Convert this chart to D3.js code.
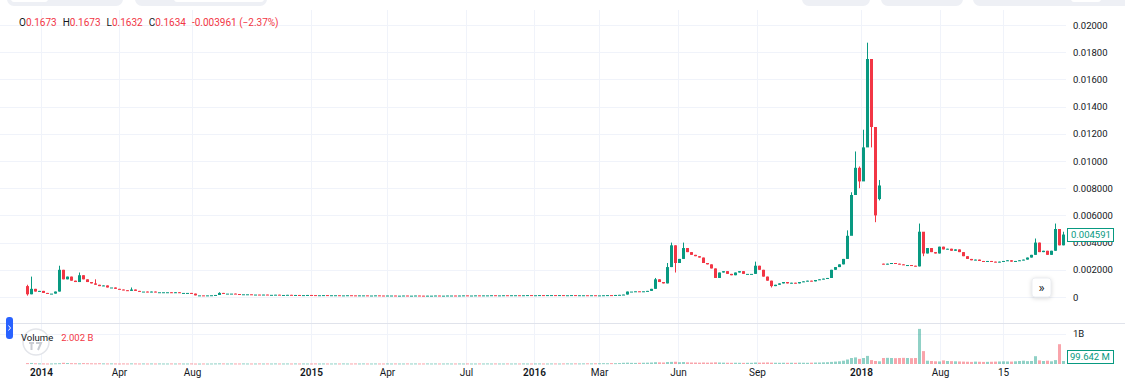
<!DOCTYPE html>
<html>
<head>
<meta charset="utf-8">
<script src="https://cdn.jsdelivr.net/npm/d3@7"></script>
<style>
  body { margin: 0; background: #fff; }
  svg text { font-family: Roboto, "Noto Sans", sans-serif; }
</style>
</head>
<body>
<div id="chart"></div>
<script>

    // prices are written in units of 0.0001
    var PRICE_UNIT = 1e-4;

    // close of each candle (open = previous close unless overridden)
    var closes = [
        2, 6, 4, 4.5, 3, 2.5, 2.5, 4, 20, 13,
        15, 12, 11, 16, 13, 11, 10, 9, 8, 8.5,
        7, 7, 6, 5.5, 5, 4.5, 5.5, 4.5, 4, 4,
        3.5, 4, 3.5, 3.5, 3.5, 3.5, 3, 3.5, 3, 3,
        3, 2.5, 1.2, 1.2, 1.1, 1.2, 1.3, 1.5, 3, 2.5,
        2.5, 2.5, 2.2, 2, 2, 2, 1.8,
        1.8, 1.7, 1.8, 1.6, 1.6, 1.7, 1.5, 1.5, 1.6, 1.4, 1.5, 1.4, 1.4, 1.5,
        1.4, 1.3, 1.3, 1.4, 1.2, 1.3, 1.3, 1.2, 1.2, 1.3, 1.2, 1.1, 1.2, 1.2, 1.1, 1.1, 1.2, 1.1, 1.0, 1.1,
        1.1, 1.0, 1.0, 1.1, 1.0, 1.0, 1.1, 1.0, 0.9, 1.0, 1.0, 1.1, 1.0, 1.0, 1.1, 1.1, 1.0, 1.1, 1.2, 1.1,
        1.1, 1.2, 1.1, 1.2, 1.2, 1.3, 1.2, 1.2, 1.3, 1.2, 1.3, 1.3, 1.2, 1.3, 1.4, 1.3, 1.3, 1.4, 1.3, 1.4,
        1.4, 1.3, 1.4, 1.3, 1.3, 1.4, 1.2, 1.3, 1.3, 1.2, 1.3, 1.2, 1.2,
        1.3, 1.4, 1.3, 1.5, 1.6, 1.8,
        4, 4, 4.2, 4, 4.2, 4.5, 6, 13, 11, 10,
        22, 38, 25, 28, 36, 33, 31, 30, 29, 25,
        24, 21, 14, 18, 19, 17, 16, 18, 19, 17,
        17, 17, 23, 20, 15, 12, 8, 9, 10, 11,
        10, 10.5, 10, 11, 11.5, 12, 11.5, 12.5, 13, 13.5,
        14, 20, 22, 24, 28, 45, 75, 95, 85, 110,
        175, 125, 60, 82, 24, 24.5, 25, 24.5, 24, 23.5,
        23.5, 23, 22.5, 48, 32, 36, 33, 32, 37, 35,
        35.5, 34, 35, 33, 30, 28, 27, 27.5, 26.5, 26,
        26.5, 26, 25.5, 26, 26.5, 27, 26, 26.5, 27, 27.5,
        29, 31, 40, 33, 34, 31, 34, 50, 38, 45.91
    ];

    var openOverrides = { 0: 8, 213: 72, 214: 24.5 };
    var wickHighs = { 0: 9, 1: 15, 8: 23, 13: 18, 17: 13, 26: 7, 48: 3.5, 157: 14, 160: 25, 161: 40,
        164: 40, 182: 26, 205: 49, 206: 77, 207: 107, 208: 96, 209: 123, 210: 187, 211: 166,
        212: 120, 213: 86, 223: 54, 224: 45, 252: 43, 257: 54, 259: 48 };
    var wickLows = { 0: 1, 162: 18, 186: 7, 206: 50, 207: 78, 208: 80, 209: 88, 210: 140,
        211: 110, 212: 55, 213: 71, 224: 30 };

    // volume in millions
    var volumes = [
        30, 35, 25, 22, 20, 18, 20, 24, 28, 40, 32, 28, 26, 24, 30, 26, 24, 22, 26, 22,
        20, 22, 20, 18, 20, 18, 22, 20, 18, 20, 18, 20, 18, 20, 18, 18, 20, 18, 20, 18,
        18, 20, 16, 16, 18, 16, 18, 20, 22, 20, 18, 20, 18, 18, 20, 18, 18,
        18, 20, 18, 19, 18, 20, 18, 18, 19, 18, 20, 18, 19, 18, 18, 20, 18, 19, 18, 18,
        19, 18, 20, 18, 18, 19, 18, 20, 18, 18, 19, 18, 18, 20, 18, 19, 18, 18, 20, 18,
        19, 18, 18, 20, 18, 19, 18, 18, 20, 18, 18, 19, 18, 20, 18, 18, 19, 18, 20, 18,
        19, 18, 18, 20, 18, 19, 18, 20, 18, 18, 19, 20, 18, 18, 20, 19, 18, 20, 22, 20,
        22, 20, 22, 24, 22, 24, 26,
        28, 26, 30, 28, 32, 40, 45, 38, 36, 40, 42, 45, 50, 60, 55, 50, 65,
        70, 75, 60, 65, 55, 50, 48, 45, 50, 45, 48, 55, 50, 45, 42, 40, 42, 40, 38, 40,
        40, 50, 45, 48, 52, 45, 42, 40, 42, 40, 42, 40, 45, 42, 40, 45, 48, 50, 55, 60,
        70, 80, 90, 110,
        150, 200, 220, 170, 200, 270, 130, 100, 90,
        200, 205, 200, 195, 200, 205, 200, 195, 200,
        1170, 430,
        110, 100, 90, 85, 120, 100, 95, 90, 85, 80, 75, 70, 80, 75, 70, 72, 75, 80, 85, 90,
        85, 80, 90, 100, 110, 95, 100,
        260, 120, 100, 110, 90, 130, 660, 99.642
    ];

    // time axis: label and the candle index it sits on
    var timeLabels = ["2014", "Apr", "Aug", "2015", "Apr", "Jul", "2016", "Mar", "Jun", "Sep", "2018", "Aug", "15"];
    var timeIndex = [3.5, 23, 41.25, 71, 90, 109.75, 126.75, 143, 162.75, 182.5, 208.5, 228.25, 244];

    var priceTicks = [0, 0.002, 0.004, 0.006, 0.008, 0.010, 0.012, 0.014, 0.016, 0.018, 0.020];

    var legendKeys = ["O", "H", "L", "C"];
    var legendValues = ["0.1673", "0.1673", "0.1632", "0.1634"];
    var legendChange = "-0.003961 (\u22122.37%)";
    var volumeValue = "2.002 B";
    var lastVolumeLabel = "99.642 M";

    var width = 1125, height = 387;
    var up = "#089981", down = "#f23645", textColor = "#131722", grid = "#f0f3fa";

    var candles = closes.map(function(c, i) {
        var o = openOverrides[i] !== undefined ? openOverrides[i] : (i > 0 ? closes[i - 1] : c);
        var h = wickHighs[i] !== undefined ? wickHighs[i] : Math.max(o, c);
        var l = wickLows[i] !== undefined ? wickLows[i] : Math.min(o, c);
        return { i: i, o: o * PRICE_UNIT, h: h * PRICE_UNIT, l: l * PRICE_UNIT, c: c * PRICE_UNIT,
                 v: volumes[i] * 1e6 };
    });

    var xScale = d3.scaleLinear().domain([0, closes.length - 1]).range([27, 1063]);
    var yScale = d3.scaleLinear().domain([0, 0.02]).range([297, 25]);
    var vScale = d3.scaleLinear().domain([0, 1e9]).range([364, 334]);

    var svg = d3.select('#chart').append('svg')
        .attr('width', width)
        .attr('height', height);

    svg.append('rect').attr('width', width).attr('height', height).attr('fill', '#fff');

    // top toolbar remnants
    var bar = svg.append('g');
    [[7, 116], [135, 132], [802, 68], [881, 82], [973, 160]].forEach(function(b) {
        bar.append('rect').attr('x', b[0]).attr('y', -20).attr('width', b[1]).attr('height', 26)
            .attr('rx', 7).attr('fill', '#eef0f5');
    });
    [[11, 37], [174, 90], [1071, 30]].forEach(function(b) {
        bar.append('rect').attr('x', b[0]).attr('y', -20).attr('width', b[1]).attr('height', 22)
            .attr('rx', 3).attr('fill', '#fff');
    });

    // grid
    svg.append('g').selectAll('line')
        .data(timeIndex)
        .enter().append('line')
        .attr('x1', function(d) { return Math.round(xScale(d)) + 0.5; })
        .attr('x2', function(d) { return Math.round(xScale(d)) + 0.5; })
        .attr('y1', 10).attr('y2', 365)
        .attr('stroke', grid);

    svg.append('g').selectAll('line')
        .data(priceTicks)
        .enter().append('line')
        .attr('x1', 0).attr('x2', 1066)
        .attr('y1', function(d) { return Math.round(yScale(d)) + 0.5; })
        .attr('y2', function(d) { return Math.round(yScale(d)) + 0.5; })
        .attr('stroke', grid);

    svg.append('line')
        .attr('x1', 0).attr('x2', 1066)
        .attr('y1', Math.round(vScale(1e9)) + 0.5).attr('y2', Math.round(vScale(1e9)) + 0.5)
        .attr('stroke', grid);

    // pane separator
    svg.append('line')
        .attr('x1', 0).attr('x2', width).attr('y1', 323.5).attr('y2', 323.5)
        .attr('stroke', '#e0e3eb');

    // volume
    svg.append('g').selectAll('rect')
        .data(candles)
        .enter().append('rect')
        .attr('x', function(d) { return Math.round(xScale(d.i)) - 1; })
        .attr('width', 3)
        .attr('y', function(d) { return vScale(d.v); })
        .attr('height', function(d) { return Math.max(1, vScale(0) - vScale(d.v)); })
        .attr('fill', function(d) { return d.c >= d.o ? up : down; })
        .attr('fill-opacity', 0.45);

    // candles
    var cg = svg.append('g');
    cg.selectAll('line')
        .data(candles)
        .enter().append('line')
        .attr('x1', function(d) { return Math.round(xScale(d.i)) + 0.5; })
        .attr('x2', function(d) { return Math.round(xScale(d.i)) + 0.5; })
        .attr('y1', function(d) { return yScale(d.h); })
        .attr('y2', function(d) { return yScale(d.l); })
        .attr('stroke', function(d) { return d.c >= d.o ? up : down; });

    cg.selectAll('rect')
        .data(candles)
        .enter().append('rect')
        .attr('x', function(d) { return Math.round(xScale(d.i)) - 1; })
        .attr('width', 3)
        .attr('y', function(d) { return yScale(Math.max(d.o, d.c)); })
        .attr('height', function(d) { return Math.max(1, Math.abs(yScale(d.o) - yScale(d.c))); })
        .attr('fill', function(d) { return d.c >= d.o ? up : down; });

    // price axis
    var fmt = d3.format('.4r');
    var yAxis = svg.append('g')
        .attr('transform', 'translate(1073,0)')
        .call(d3.axisRight(yScale).tickValues(priceTicks).tickSize(0).tickPadding(0)
            .tickFormat(function(d) { return d === 0 ? '0' : fmt(d); }));
    yAxis.select('.domain').remove();
    yAxis.selectAll('text').attr('fill', textColor).style('font-size', '9.5px');

    svg.append('text')
        .attr('x', 1073).attr('y', vScale(1e9)).attr('dy', '0.32em')
        .attr('fill', textColor).style('font-size', '9.5px')
        .text('1B');

    // time axis
    var xAxis = svg.append('g')
        .attr('transform', 'translate(0,366)')
        .call(d3.axisBottom(xScale).tickValues(timeIndex).tickSize(0).tickPadding(3)
            .tickFormat(function(d, i) { return timeLabels[i]; }));
    xAxis.select('.domain').remove();
    xAxis.selectAll('text')
        .attr('fill', textColor)
        .style('font-size', '10px')
        .style('font-weight', function(d, i) { return /^\d{4}$/.test(timeLabels[i]) ? 600 : 400; });

    // last price label
    var last = candles[candles.length - 1];
    var ly = Math.round(yScale(last.c));
    svg.append('rect')
        .attr('x', 1067.5).attr('y', ly - 6.5).attr('width', 46).attr('height', 13)
        .attr('fill', '#fff').attr('stroke', up);
    svg.append('text')
        .attr('x', 1071).attr('y', ly).attr('dy', '0.34em')
        .attr('fill', up).style('font-size', '9.5px')
        .text(d3.format('.4r')(last.c));

    svg.append('rect')
        .attr('x', 1067.5).attr('y', 350.5).attr('width', 46).attr('height', 13)
        .attr('fill', '#fff').attr('stroke', up);
    svg.append('text')
        .attr('x', 1070).attr('y', 357).attr('dy', '0.34em')
        .attr('fill', up).style('font-size', '9.5px')
        .text(lastVolumeLabel);

    // legend
    var legend = svg.append('text')
        .attr('x', 19).attr('y', 26)
        .style('font-size', '10px');
    legendKeys.forEach(function(k, i) {
        legend.append('tspan').attr('dx', i === 0 ? 0 : 6).attr('fill', textColor).text(k);
        legend.append('tspan').attr('fill', down).text(legendValues[i]);
    });
    legend.append('tspan').attr('dx', 6).attr('fill', down).text(legendChange);

    // volume pane title with faint logo ring behind it
    svg.append('circle').attr('cx', 36).attr('cy', 342).attr('r', 13)
        .attr('fill', '#fff').attr('stroke', '#e3e5ea').attr('stroke-width', 1.5);
    svg.append('path').attr('d', 'M29,343 h5 M31.5,343 v7 M36,343 h5 l-3,7')
        .attr('fill', 'none').attr('stroke', '#c9ccd3').attr('stroke-width', 2);
    var vl = svg.append('text').attr('x', 21).attr('y', 341).style('font-size', '9.5px');
    vl.append('tspan').attr('fill', textColor).text('Volume');
    vl.append('tspan').attr('dx', 8).attr('fill', down).text(volumeValue);

    // left pane handle
    svg.append('rect').attr('x', 6).attr('y', 317).attr('width', 7).attr('height', 22)
        .attr('rx', 3).attr('fill', '#2962ff');
    svg.append('path').attr('d', 'M8.5,325.5 L10.5,328 L8.5,330.5')
        .attr('fill', 'none').attr('stroke', '#fff').attr('stroke-width', 1);

    // scroll-to-end button
    svg.append('rect').attr('x', 1032).attr('y', 278).attr('width', 19).attr('height', 19)
        .attr('rx', 3).attr('fill', '#fff').attr('stroke', '#eceef2')
        .style('filter', 'drop-shadow(0 1px 2px rgba(0,0,0,0.15))');
    svg.append('text').attr('x', 1041.5).attr('y', 288).attr('dy', '0.32em')
        .attr('text-anchor', 'middle').attr('fill', textColor)
        .style('font-size', '13px').text('\u00bb');

</script>
</body>
</html>
